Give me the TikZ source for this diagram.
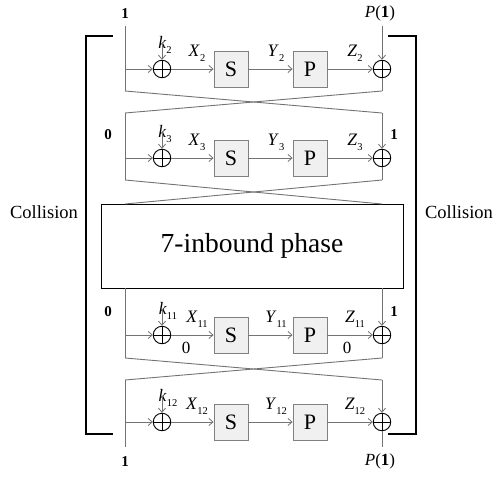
\documentclass[tikz,border=0pt]{standalone}
\usepackage{fontspec}
\setmainfont{Liberation Serif}
\usetikzlibrary{arrows.meta}
\newcommand\fsz[1]{\fontsize{#1}{#1}\selectfont}
\newcommand\lbl[2]{\textit{#1}\raisebox{-0.3em}{\fsz{10.5}#2}}
\tikzset{
  sig/.style={draw=black!55, line width=0.9pt},
  arr/.style={sig, -{Straight Barb[length=4pt,width=7pt,line width=0.8pt]}},
  xor/.style={circle, draw=black, line width=0.9pt, minimum size=17.5pt, inner sep=0pt,
    path picture={\draw[line width=0.9pt] (path picture bounding box.north) -- (path picture bounding box.south)
      (path picture bounding box.west) -- (path picture bounding box.east);}},
  fbox/.style={draw=black!50, fill=black!6, line width=0.9pt, minimum width=34pt, minimum height=36pt, inner sep=0pt, font=\fsz{22}},
  lab/.style={font=\fsz{17.5}, inner sep=1pt},
  bit/.style={font=\fsz{15}\bfseries, inner sep=0pt},
  brk/.style={line width=2.6pt, black},
}
\begin{document}
\begin{tikzpicture}[x=1pt, y=-1pt]
\useasboundingbox (0,0) rectangle (496,477);
% brackets
\coordinate (bl1) at (113,36); \coordinate (bl2) at (86,36); \coordinate (bl3) at (86,434); \coordinate (bl4) at (113,434);
\coordinate (br1) at (388,36); \coordinate (br2) at (416,36); \coordinate (br3) at (416,434); \coordinate (br4) at (388,434);
\draw[brk] (bl1) -- (bl2) -- (bl3) -- (bl4);
\draw[brk] (br1) -- (br2) -- (br3) -- (br4);
\node[font=\fsz{18.5}] (colL) at (44,212) {Collision};
\node[font=\fsz{18.5}] (colR) at (459,212) {Collision};
% top / bottom labels
\node[bit] (t1) at (125,14) {1};
\node[font=\fsz{17}, inner sep=0pt] (tp) at (380,13) {\textit{P}(\textbf{1})};
\node[bit] (u1) at (125,462) {1};
\node[font=\fsz{17}, inner sep=0pt] (up) at (380,461) {\textit{P}(\textbf{1})};
% rows
\foreach \r/\n/\kx in {69/2/165, 158/3/165, 335/11/168, 422/12/168} {
  \coordinate (L\n) at (125,\r);
  \node[xor] (xa\n) at (162,\r) {};
  \node[fbox] (s\n) at (231,\r) {S};
  \node[fbox] (p\n) at (310,\r) {P};
  \node[xor] (xb\n) at (382,\r) {};
  \coordinate (k\n) at (162,\r-26);
  \node[lab] (kl\n) at (\kx,\r-24) {\lbl{k}{\n}};
  \draw[arr] (L\n) -- (xa\n);
  \draw[arr] (k\n) -- (xa\n);
  \draw[arr] (xa\n) -- (s\n);
  \draw[arr] (s\n) -- (p\n);
  \draw[arr] (p\n) -- (xb\n);
  \node[lab] (xl\n) at (197,\r-16) {\lbl{X}{\n}};
  \node[lab] (yl\n) at (276,\r-16) {\lbl{Y}{\n}};
  \node[lab] (zl\n) at (355,\r-16) {\lbl{Z}{\n}};
}
% bus lines
\coordinate (a0) at (125,26); \coordinate (b0) at (382,26);
\coordinate (a2) at (125,91); \coordinate (b2) at (382,91);
\coordinate (a3t) at (125,113); \coordinate (b3t) at (382,113);
\coordinate (a3) at (125,180); \coordinate (b3) at (382,180);
\coordinate (a4t) at (125,204); \coordinate (b4t) at (382,204);
\node[draw=black, line width=0.9pt, fill=white, minimum width=302pt, minimum height=84pt, font=\fsz{27.5}] (ib) at (252,246) {7-inbound phase};
\coordinate (a11t) at (125,288); \coordinate (b11t) at (382,288);
\coordinate (a11) at (125,358); \coordinate (b11) at (382,358);
\coordinate (a12t) at (125,380); \coordinate (b12t) at (382,380);
\coordinate (a12) at (125,447); \coordinate (b12) at (382,447);
\draw[sig] (a0) -- (a2);
\draw[arr] (b0) -- (xb2);
\draw[sig] (xb2) -- (b2);
\draw[sig] (a2) -- (b3t);
\draw[sig] (b2) -- (a3t);
\draw[sig] (a3t) -- (a3);
\draw[arr] (b3t) -- (xb3);
\draw[sig] (xb3) -- (b3);
\draw[sig] (a3) -- (b4t);
\draw[sig] (b3) -- (a4t);
\draw[sig] (a11t) -- (a11);
\draw[arr] (b11t) -- (xb11);
\draw[sig] (xb11) -- (b11);
\draw[sig] (a11) -- (b12t);
\draw[sig] (b11) -- (a12t);
\draw[sig] (a12t) -- (a12);
\draw[arr] (b12t) -- (xb12);
\draw[sig] (xb12) -- (b12);
% side bits
\node[bit] (z3) at (108,135) {0};
\node[bit] (o3) at (394,135) {1};
\node[bit] (z11) at (108,312) {0};
\node[bit] (o11) at (394,312) {1};
\node[font=\fsz{17}, inner sep=0pt] (zx) at (186,348) {0};
\node[font=\fsz{17}, inner sep=0pt] (zz) at (347,348) {0};
\end{tikzpicture}
\end{document}
